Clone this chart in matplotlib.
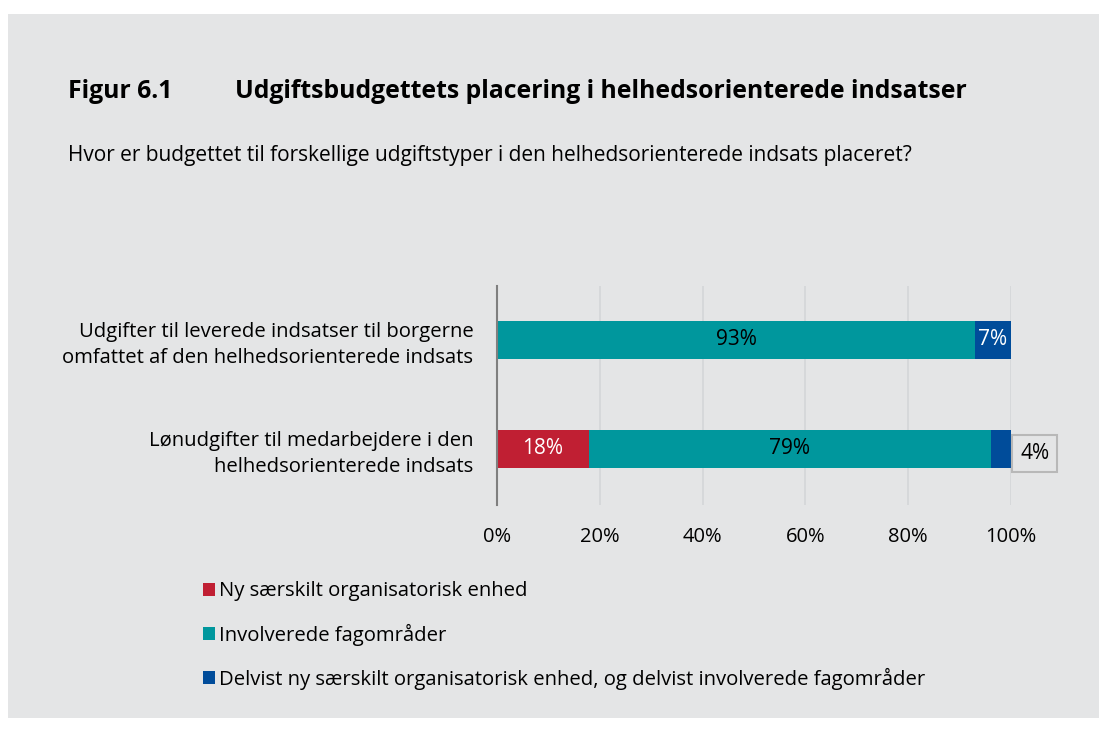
import numpy as np
import matplotlib.pyplot as plt
from matplotlib.patches import Rectangle

plt.rcParams['font.family'] = ['Open Sans', 'DejaVu Sans']

# data
categories = ['Udgifter til leverede indsatser til borgerne\nomfattet af den helhedsorienterede indsats',
              'Lønudgifter til medarbejdere i den\nhelhedsorienterede indsats']
series = ['Ny særskilt organisatorisk enhed',
          'Involverede fagområder',
          'Delvist ny særskilt organisatorisk enhed, og delvist involverede fagområder']
values = np.array([[0, 93, 7],
                   [18, 79, 4]], dtype=float)
colors = ['#c01f33', '#00979d', '#004c9a']
label_colors = ['white', 'black', 'white']
ticks = [0, 20, 40, 60, 80, 100]

bg = '#e4e5e6'

fig = plt.figure(figsize=(10.99, 7.31), dpi=100)
fig.patch.set_facecolor('white')
fig.patches.append(Rectangle((8 / 1099, 1 - 718 / 731), 1, (718 - 14) / 731,
                             transform=fig.transFigure, facecolor=bg,
                             edgecolor='none', zorder=-10))

ax = fig.add_axes([497 / 1099, 1 - 505 / 731, (1011 - 497) / 1099, 219 / 731])
ax.set_facecolor(bg)

# scale rows so each bar fills 0-100 %
shares = values / values.sum(axis=1, keepdims=True) * 100
y = np.arange(len(categories))
left = np.zeros(len(categories))
for j, name in enumerate(series):
    ax.barh(y, shares[:, j], left=left, height=0.35, color=colors[j],
            label=name, zorder=3)
    for i in range(len(categories)):
        v = values[i, j]
        if v == 0:
            continue
        cx = left[i] + shares[i, j] / 2
        if shares[i, j] < 5:
            # too small: put label in a box right of the bar
            ax.annotate(f'{v:.0f}%', xy=(100, y[i] + 0.04), xytext=(6.5, 0),
                        textcoords='offset points', ha='left', va='center',
                        fontsize=15, color='black', zorder=5,
                        annotation_clip=False,
                        bbox=dict(boxstyle='square,pad=0.38', facecolor=bg,
                                  edgecolor='#b8b8b8', linewidth=1.5))
        else:
            ax.text(cx, y[i], f'{v:.0f}%', ha='center', va='center',
                    fontsize=15, color=label_colors[j], zorder=4)
    left += shares[:, j]

ax.set_xlim(0, 100)
ax.set_ylim(1.514, -0.495)
ax.set_xticks(ticks)
ax.set_xticklabels([f'{t}%' for t in ticks], fontsize=14.5)
ax.set_yticks(y)
ax.set_yticklabels(categories, fontsize=14.6, linespacing=1.38)
ax.tick_params(axis='both', length=0)
ax.tick_params(axis='y', pad=17)
ax.tick_params(axis='x', pad=16)
ax.xaxis.grid(True, color='#d4d6d8', linewidth=1.2, zorder=0)
for s in ['top', 'right', 'bottom']:
    ax.spines[s].set_visible(False)
ax.spines['left'].set_color('#7f7f7f')
ax.spines['left'].set_linewidth(1.5)
ax.spines['left'].set_zorder(6)

fig.text(68 / 1099, 1 - 92 / 731, 'Figur 6.1', fontsize=17.8, fontweight='bold',
         va='center', ha='left')
fig.text(235 / 1099, 1 - 92 / 731, 'Udgiftsbudgettets placering i helhedsorienterede indsatser',
         fontsize=17.8, fontweight='bold', va='center', ha='left')
fig.text(68 / 1099, 1 - 156 / 731,
         'Hvor er budgettet til forskellige udgiftstyper i den helhedsorienterede indsats placeret?',
         fontsize=15, va='center', ha='left')

fig.legend(loc='upper left', bbox_to_anchor=(185 / 1099, 1 - 563 / 731),
           frameon=False, fontsize=14.6, handlelength=0.6, handleheight=0.6,
           handletextpad=0.2, labelspacing=1.1)

fig.savefig('out.png', dpi=100, facecolor=fig.get_facecolor())
